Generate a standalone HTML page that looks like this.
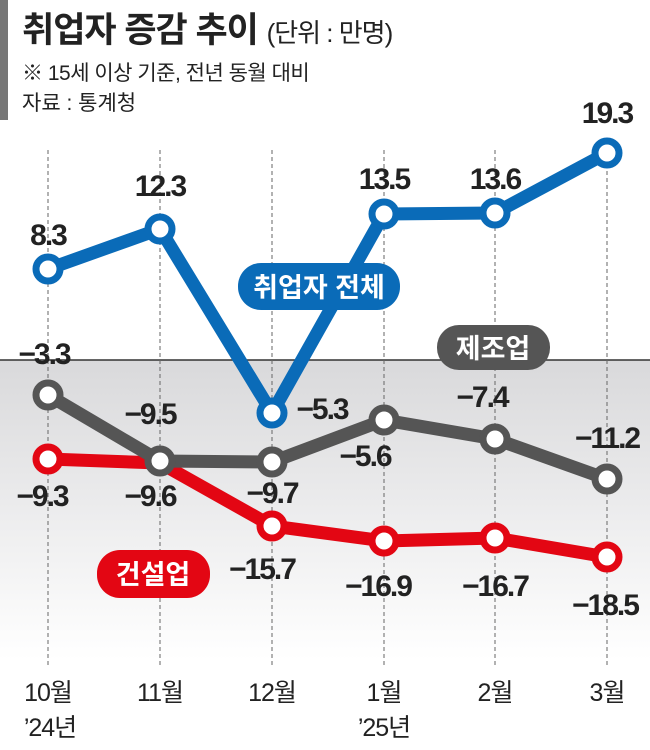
<!DOCTYPE html>
<html><head><meta charset="utf-8"><style>
body{margin:0;background:#fff;}
svg text{font-family:"Liberation Sans","Noto Sans CJK KR",sans-serif;}
</style></head><body>
<svg width="650" height="745" viewBox="0 0 650 745" xmlns="http://www.w3.org/2000/svg">
<defs><linearGradient id="g" x1="0" y1="0" x2="0" y2="1"><stop offset="0" stop-color="#d9d9db"/><stop offset="1" stop-color="#ffffff"/></linearGradient></defs>
<rect x="0" y="0" width="8" height="120" fill="#777"/>
<text x="22" y="42" font-size="35" font-weight="bold" fill="#222" letter-spacing="-1">취업자 증감 추이 <tspan font-size="26" font-weight="normal">(단위 : 만명)</tspan></text>
<text x="22" y="80" font-size="21" fill="#222" letter-spacing="-0.5">※ 15세 이상 기준, 전년 동월 대비</text>
<text x="22" y="110" font-size="21" fill="#222">자료 : 통계청</text>
<rect x="0" y="360" width="650" height="300" fill="url(#g)"/>
<line x1="0" y1="360" x2="650" y2="360" stroke="#333" stroke-width="1.5"/>
<g stroke="#666" stroke-width="1" stroke-dasharray="4,3">
<line x1="48" y1="150" x2="48" y2="665"/><line x1="160" y1="150" x2="160" y2="665"/><line x1="272" y1="150" x2="272" y2="665"/><line x1="384" y1="150" x2="384" y2="665"/><line x1="495" y1="150" x2="495" y2="665"/><line x1="607" y1="150" x2="607" y2="665"/>
</g>
<polyline points="48,459 160,463 272,526 384,541 495,538 607,557" fill="none" stroke="#e30613" stroke-width="13" stroke-linejoin="round"/>
<polyline points="48,395 160,461 272,462 384,420 495,439 607,479" fill="none" stroke="#555" stroke-width="13" stroke-linejoin="round"/>
<polyline points="48,269 160,229 272,413 384,214 495,213 607,153" fill="none" stroke="#0a6bb8" stroke-width="13" stroke-linejoin="round"/>
<g fill="#fff" stroke-width="7">
<g stroke="#e30613"><circle cx="48" cy="459" r="12"/><circle cx="272" cy="526" r="12"/><circle cx="384" cy="541" r="12"/><circle cx="495" cy="538" r="12"/><circle cx="607" cy="557" r="12"/></g>
<g stroke="#555"><circle cx="48" cy="395" r="12"/><circle cx="160" cy="461" r="12"/><circle cx="272" cy="462" r="12"/><circle cx="384" cy="420" r="12"/><circle cx="495" cy="439" r="12"/><circle cx="607" cy="479" r="12"/></g>
<g stroke="#0a6bb8"><circle cx="48" cy="269" r="12"/><circle cx="160" cy="229" r="12"/><circle cx="272" cy="413" r="12"/><circle cx="384" cy="214" r="12"/><circle cx="495" cy="213" r="12"/><circle cx="607" cy="153" r="12"/></g>
</g>
<g font-size="30" font-weight="bold" fill="#222" text-anchor="middle" letter-spacing="-2">
<text x="48" y="245">8.3</text><text x="160" y="196">12.3</text><text x="384" y="189">13.5</text><text x="495" y="189">13.6</text><text x="607" y="123">19.3</text>
<text x="322" y="419">−5.3</text>
<text x="44" y="364">−3.3</text><text x="150" y="424">−9.5</text><text x="272" y="503">−9.7</text><text x="365" y="466">−5.6</text><text x="482" y="407">−7.4</text><text x="607" y="448">−11.2</text>
<text x="42" y="506">−9.3</text><text x="150" y="506">−9.6</text><text x="262" y="579">−15.7</text><text x="378" y="596">−16.9</text><text x="495" y="596">−16.7</text><text x="605" y="615">−18.5</text>
</g>
<rect x="238" y="263" width="162" height="47" rx="23" fill="#0a6bb8"/>
<text x="319" y="297" font-size="27" font-weight="bold" fill="#fff" text-anchor="middle">취업자 전체</text>
<rect x="437" y="325" width="113" height="45" rx="22" fill="#555"/>
<text x="493" y="358" font-size="27" font-weight="bold" fill="#fff" text-anchor="middle">제조업</text>
<rect x="97" y="550" width="113" height="48" rx="23" fill="#e30613"/>
<text x="153" y="584" font-size="27" font-weight="bold" fill="#fff" text-anchor="middle">건설업</text>
<g font-size="25" fill="#222" text-anchor="middle" letter-spacing="-1">
<text x="48" y="701">10월</text><text x="160" y="701">11월</text><text x="272" y="701">12월</text><text x="384" y="701">1월</text><text x="495" y="701">2월</text><text x="607" y="701">3월</text>
<text x="50" y="736">’24년</text><text x="384" y="736">’25년</text>
</g>
</svg>
</body></html>
